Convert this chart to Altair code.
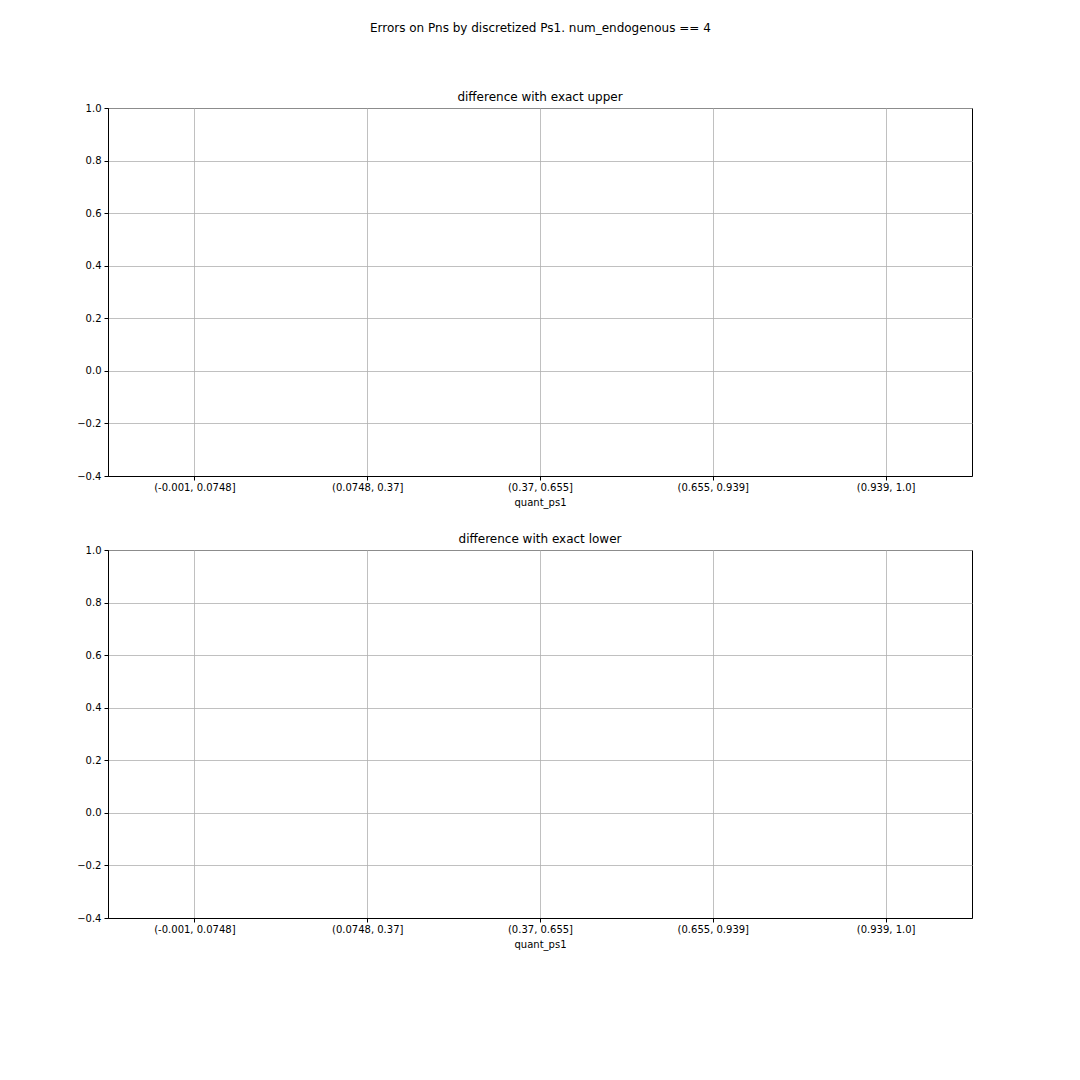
import altair as alt
import pandas as pd

categories = ["(-0.001, 0.0748]", "(0.0748, 0.37]", "(0.37, 0.655]", "(0.655, 0.939]", "(0.939, 1.0]"]
upper_values = [None, None, None, None, None]
lower_values = [None, None, None, None, None]
y_ticks = [-0.4, -0.2, 0.0, 0.2, 0.4, 0.6, 0.8, 1.0]

FONT = "DejaVu Sans"

def panel(values, title):
    df = pd.DataFrame({"quant_ps1": categories, "diff": values})
    return alt.Chart(df, title=alt.TitleParams(title, fontSize=12, font=FONT, fontWeight="normal",
                                                 color="black", offset=-1)).mark_point(opacity=0).encode(
        x=alt.X("quant_ps1:N", sort=categories,
                scale=alt.Scale(domain=categories, paddingInner=0, paddingOuter=0),
                axis=alt.Axis(title="quant_ps1", labelAngle=0, bandPosition=0.5, grid=True,
                              gridColor="#b0b0b0", gridWidth=0.8, domainColor="black",
                              tickColor="black", tickSize=4, labelPadding=2, labelFontSize=10,
                              titleFontSize=10, titleFontWeight="normal", labelFont=FONT,
                              titleFont=FONT, labelColor="black", titleColor="black", titlePadding=5)),
        y=alt.Y("diff:Q", scale=alt.Scale(domain=[-0.4, 1.0], nice=False, zero=False),
                axis=alt.Axis(title=None, values=y_ticks, format=".1f",
                              labelExpr="replace(datum.label, '-', '\u2212')",
                              grid=True, gridColor="#b0b0b0", gridWidth=0.8, domainColor="black",
                              tickColor="black", tickSize=4, labelPadding=3, labelFontSize=10,
                              labelFont=FONT, labelColor="black")),
    ).properties(width=864, height=368)

chart = alt.vconcat(
    panel(upper_values, "difference with exact upper"),
    panel(lower_values, "difference with exact lower"),
    spacing=24,
).properties(
    title=alt.TitleParams("Errors on Pns by discretized Ps1. num_endogenous == 4", fontSize=12,
                          font=FONT, fontWeight="normal", color="black", anchor="middle",
                          offset=56, dx=16),
    padding={"top": 21, "left": 76, "right": 20, "bottom": 20},
    background="white",
).configure_view(stroke="black", strokeWidth=1)

chart.save("out.html", embed_options={"renderer": "svg", "actions": False})
